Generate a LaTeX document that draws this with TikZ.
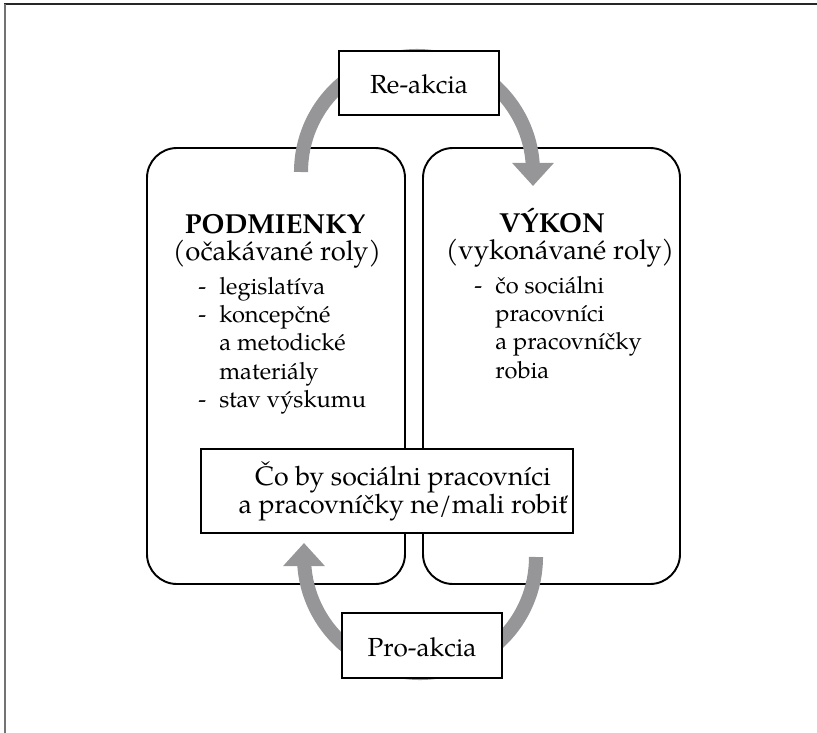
\documentclass[tikz,border=0pt]{standalone}
\usepackage{fontspec}
\setmainfont{TeX Gyre Pagella}
\usetikzlibrary{arrows.meta,fit}
\definecolor{flowgray}{RGB}{150,150,153}
\tikzset{
  txt/.style={inner sep=0pt,font=\fontsize{13.6}{15}\selectfont},
  headtxt/.style={inner sep=0pt,anchor=base,font=\fontsize{14.3}{14.8}\selectfont},
  listtxt/.style={inner sep=0pt,anchor=base west,font=\fontsize{12.3}{14.8}\selectfont},
  roundbox/.style={draw,line width=1pt,inner sep=0pt,rounded corners=15.6pt},
  labelbox/.style={draw,line width=1pt,fill=white,inner sep=0pt},
  flow/.style={draw=flowgray,line width=7.3pt},
  flowtip/.style={flow,-{Triangle[width=21pt,length=12pt]}}
}
\begin{document}
\begin{tikzpicture}[x=0.52pt,y=-0.52pt]
\useasboundingbox (0,0) rectangle (817,733);
% frame
\draw[black!85,line width=0.6pt] (4,4)--(817,4);
\draw[black!55,line width=1pt] (5,4)--(5,733);

% the two rounded boxes
\node[roundbox,fit={(147,148) (405,584)}] (cond) {};
\node[roundbox,fit={(423,148) (680,584)}] (perf) {};

\node[headtxt,font=\fontsize{14.3}{14.8}\selectfont\bfseries] (condT) at (275,233) {PODMIENKY};
\node[headtxt] (condS) at (277,260) {(očakávané roly)};
\node[listtxt] (condL) at (198,294) {\begin{tabular}[t]{@{}l@{\hspace{6.8pt}}l@{}}
-& legislatíva\\
-& koncepčné\\
& a metodické\\
& materiály\\
-& stav výskumu
\end{tabular}};

\node[headtxt,font=\fontsize{14.3}{14.8}\selectfont\bfseries] (perfT) at (552,232) {VÝKON};
\node[headtxt] (perfS) at (560,259) {(vykonávané roly)};
\node[listtxt] (perfL) at (474,293) {\begin{tabular}[t]{@{}l@{\hspace{6.8pt}}l@{}}
-& čo sociálni\\
& pracovníci\\
& a pracovníčky\\
& robia
\end{tabular}};

% arrows
\coordinate (upS) at (301,172);
\draw[flow] (upS) arc[start angle=180,end angle=270,radius=116] coordinate (upM);
\draw[flowtip] (upM) arc[start angle=270,end angle=360,radius=116] -- ++(0,14);
\coordinate (dnS) at (536,557);
\draw[flow] (dnS) arc[start angle=0,end angle=90,radius=116] coordinate (dnM);
\draw[flowtip] (dnM) arc[start angle=90,end angle=180,radius=116] -- ++(0,-14);

% boxes on top
\node[labelbox,fit={(339,51) (499,115)}] (re) {};
\node[txt,anchor=base] (reT) at (419,93) {Re-akcia};
\node[labelbox,fit={(342,613) (502,678)}] (pro) {};
\node[txt,anchor=base] (proT) at (422,656) {Pro-akcia};
\node[labelbox,fit={(201,449) (573,533)}] (mid) {};
\node[txt,anchor=base,font=\fontsize{13.9}{15}\selectfont] (midT) at (403,485) {\begin{tabular}[t]{@{}c@{}}
Čo by sociálni pracovníci\\
a pracovníčky ne/mali robiť
\end{tabular}};
\end{tikzpicture}
\end{document}
